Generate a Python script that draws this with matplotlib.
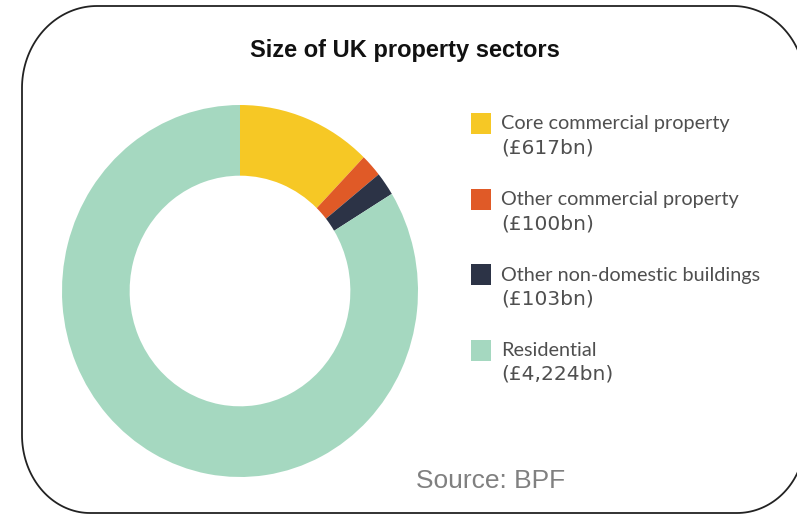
import numpy as np
import matplotlib.pyplot as plt
from matplotlib.patches import Rectangle, PathPatch
from matplotlib.path import Path

# =========================
# DATA
# =========================
sectors = [
    "Core commercial property",
    "Other commercial property",
    "Other non-domestic buildings",
    "Residential",
]
values_bn = [617, 100, 103, 4224]
colors = ["#F6C825", "#E05A27", "#2C3346", "#A5D8C0"]

W, H = 797, 515

fig = plt.figure(figsize=(W / 100, H / 100), dpi=100)
fig.patch.set_facecolor("white")

# overlay in pixel coordinates for frame + text
bg = fig.add_axes([0, 0, 1, 1])
bg.set_xlim(0, W)
bg.set_ylim(H, 0)
bg.axis("off")


def rounded_frame(x0, y0, x1, y1, radii, n=40):
    """Closed path of a rectangle with elliptical corners (TR, BR, BL, TL)."""
    (rx1, ry1), (rx2, ry2), (rx3, ry3), (rx4, ry4) = radii
    corners = [
        (x1 - rx1, y0 + ry1, rx1, ry1, -90, 0),
        (x1 - rx2, y1 - ry2, rx2, ry2, 0, 90),
        (x0 + rx3, y1 - ry3, rx3, ry3, 90, 180),
        (x0 + rx4, y0 + ry4, rx4, ry4, 180, 270),
    ]
    pts = []
    for cx, cy, rx, ry, a0, a1 in corners:
        t = np.radians(np.linspace(a0, a1, n))
        pts += list(zip(cx + rx * np.cos(t), cy + ry * np.sin(t)))
    pts.append(pts[0])
    codes = [Path.MOVETO] + [Path.LINETO] * (len(pts) - 2) + [Path.CLOSEPOLY]
    return Path(pts, codes)


# right side of the frame runs just past the image edge
frame = rounded_frame(22, 6, 805, 513, [(72, 78), (68, 74), (68, 78), (75, 82)])
bg.add_patch(PathPatch(frame, facecolor="none", edgecolor="#222222", lw=1.3))

# title
bg.text(405, 51, "Size of UK property sectors", ha="center", va="center",
        fontsize=17, fontweight="bold", family="Liberation Sans", color="#111111")

# legend
for i, (name, val, col) in enumerate(zip(sectors, values_bn, colors)):
    top = 113 + i * 75.5
    bg.add_patch(Rectangle((471, top), 20, 21, facecolor=col, edgecolor="none"))
    bg.text(501, top + 11, name, ha="left", va="center",
            fontsize=14.3, family="Lato", color="#4F4F4F")
    bg.text(501, top + 35, f"(£{val:,}bn)", ha="left", va="center",
            fontsize=14.5, family="DejaVu Sans", color="#4F4F4F")

# source note
bg.text(416, 481, "Source: BPF", ha="left", va="center",
        fontsize=19, family="Liberation Sans", color="#808080")

# donut
cx, cy, rx, ry = 240, 291, 178, 186
ax = fig.add_axes([(cx - rx) / W, 1 - (cy + ry) / H, 2 * rx / W, 2 * ry / H])
ax.pie(values_bn, colors=colors, startangle=90, counterclock=False,
       radius=1, wedgeprops=dict(width=0.38, edgecolor="none"))
ax.set_aspect("auto")
ax.set_xlim(-1, 1)
ax.set_ylim(-1, 1)
ax.axis("off")

fig.savefig("out.png", dpi=100, facecolor="white")
